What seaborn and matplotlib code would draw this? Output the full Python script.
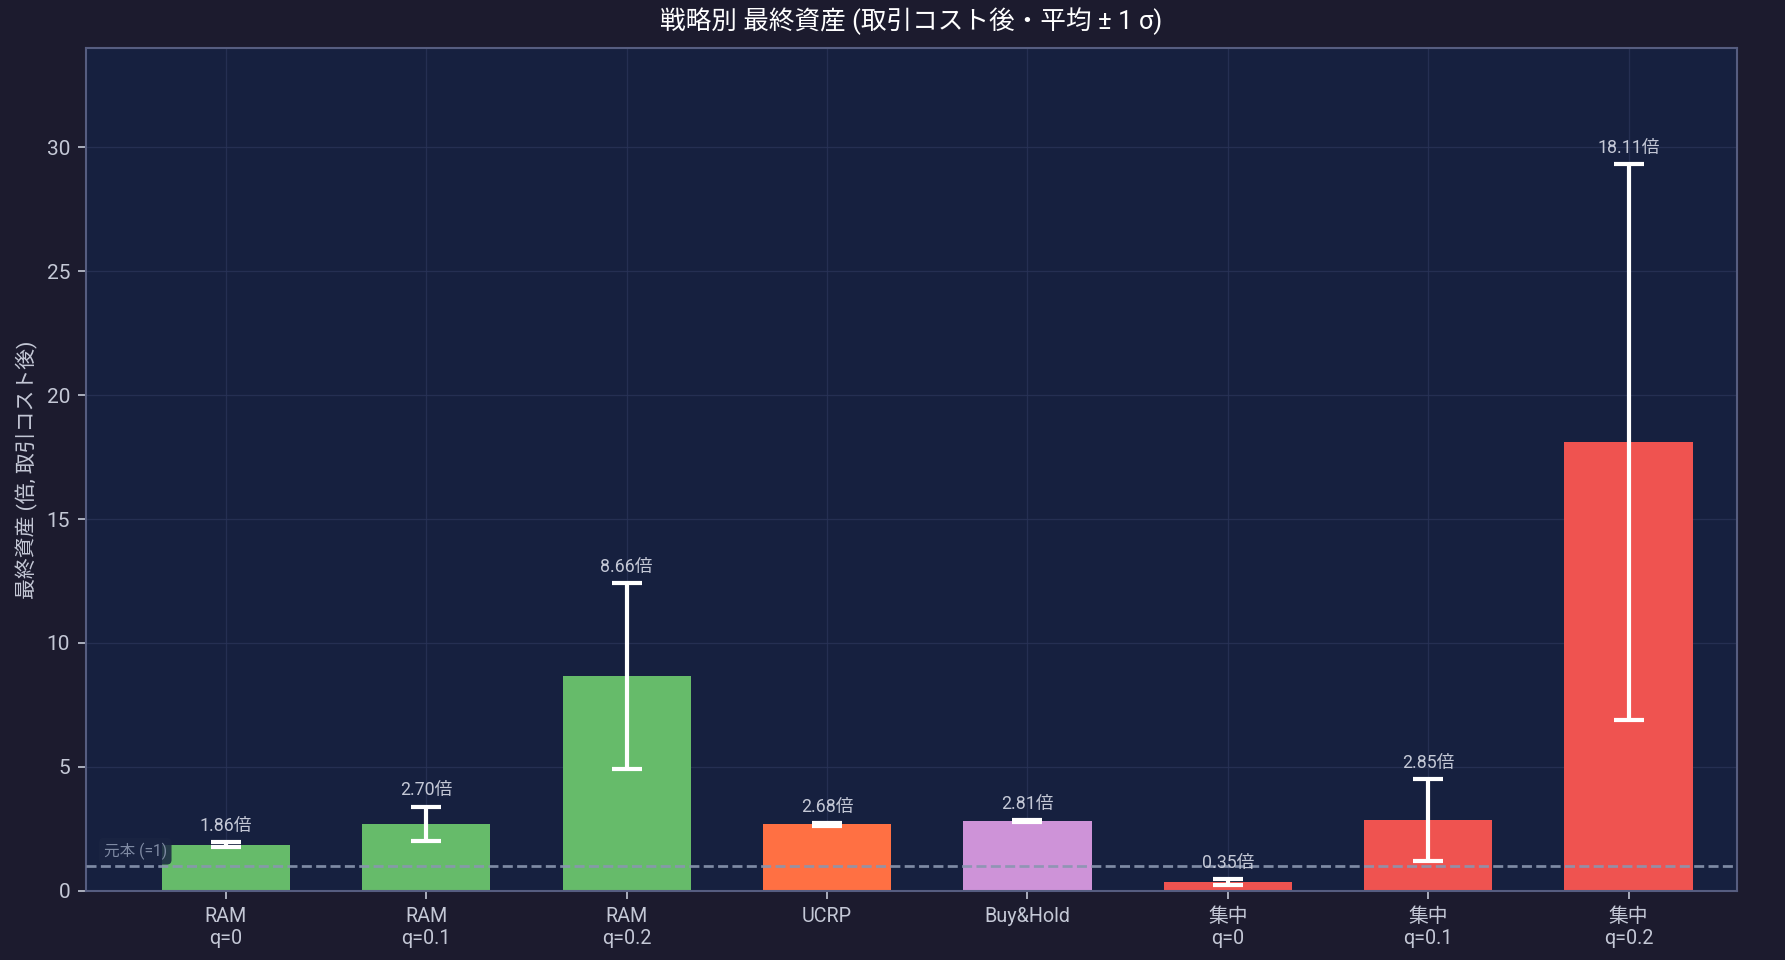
import numpy as np
import pandas as pd
import matplotlib
matplotlib.use("Agg")
import matplotlib.pyplot as plt
import seaborn as sns

# Data
strategies = ["RAM\nq=0", "RAM\nq=0.1", "RAM\nq=0.2", "UCRP", "Buy&Hold",
              "集中\nq=0", "集中\nq=0.1", "集中\nq=0.2"]
means = [1.86, 2.70, 8.66, 2.68, 2.81, 0.35, 2.85, 18.11]
stds = [0.11, 0.69, 3.74, 0.06, 0.05, 0.13, 1.65, 11.20]
colors = ["#66BB6A", "#66BB6A", "#66BB6A", "#FF7043", "#CE93D8",
          "#EF5350", "#EF5350", "#EF5350"]

BG = "#1c1b2e"
AX_BG = "#16203f"
TXT = "#c4c8d6"
SPINE = "#565d80"

sns.set_style("dark", rc={
    "figure.facecolor": BG,
    "axes.facecolor": AX_BG,
    "axes.edgecolor": SPINE,
    "axes.labelcolor": TXT,
    "xtick.color": TXT,
    "ytick.color": TXT,
    "text.color": TXT,
    "grid.color": "#2a3458",
    "xtick.bottom": True,
    "ytick.left": True,
})
plt.rcParams["font.family"] = ["Roboto", "Noto Sans CJK JP", "DejaVu Sans"]

df = pd.DataFrame({"strategy": strategies, "mean": means, "std": stds})

fig, ax = plt.subplots(figsize=(11.9, 6.4), dpi=150)
fig.subplots_adjust(left=0.048, right=0.973, top=0.95, bottom=0.072)
sns.barplot(data=df, x="strategy", y="mean", hue="strategy", palette=colors,
            legend=False, width=0.64, saturation=1, linewidth=0, ax=ax)
ax.errorbar(np.arange(len(means)), means, yerr=stds, fmt="none",
            ecolor="white", elinewidth=2, capsize=7, capthick=2, zorder=5)

for i, (m, s) in enumerate(zip(means, stds)):
    ax.text(i, m + s + 0.3, f"{m:.2f}倍", ha="center", va="bottom",
            fontsize=8.5, color=TXT, zorder=6)

ax.axhline(1, color="#8a96b0", linestyle="--", linewidth=1.3, alpha=0.9, zorder=4)
ax.text(-0.61, 1.25, "元本 (=1)", fontsize=7.5, color="#7f8aa3", va="bottom",
        bbox=dict(boxstyle="round,pad=0.3", facecolor="#1a2442", edgecolor="none", alpha=0.85),
        zorder=3)

ax.set_xlim(-0.70, 7.54)
ax.set_ylim(0, 34)
ax.set_yticks([0, 5, 10, 15, 20, 25, 30])
ax.grid(True, color="#2a3458", linewidth=0.6, alpha=0.8)
ax.set_axisbelow(True)
for sp in ax.spines.values():
    sp.set_color(SPINE)
    sp.set_linewidth(1.0)
ax.tick_params(axis="both", labelsize=10, length=4, color=TXT)
ax.tick_params(axis="x", labelsize=9.5)

ax.set_xlabel("")
ax.set_ylabel("最終資産 (倍, 取引コスト後)", fontsize=10)
ax.set_title("戦略別 最終資産 (取引コスト後・平均 ± 1 σ)", fontsize=12.3, color="white", pad=9)

plt.savefig("out.png", dpi=150, facecolor=BG)
